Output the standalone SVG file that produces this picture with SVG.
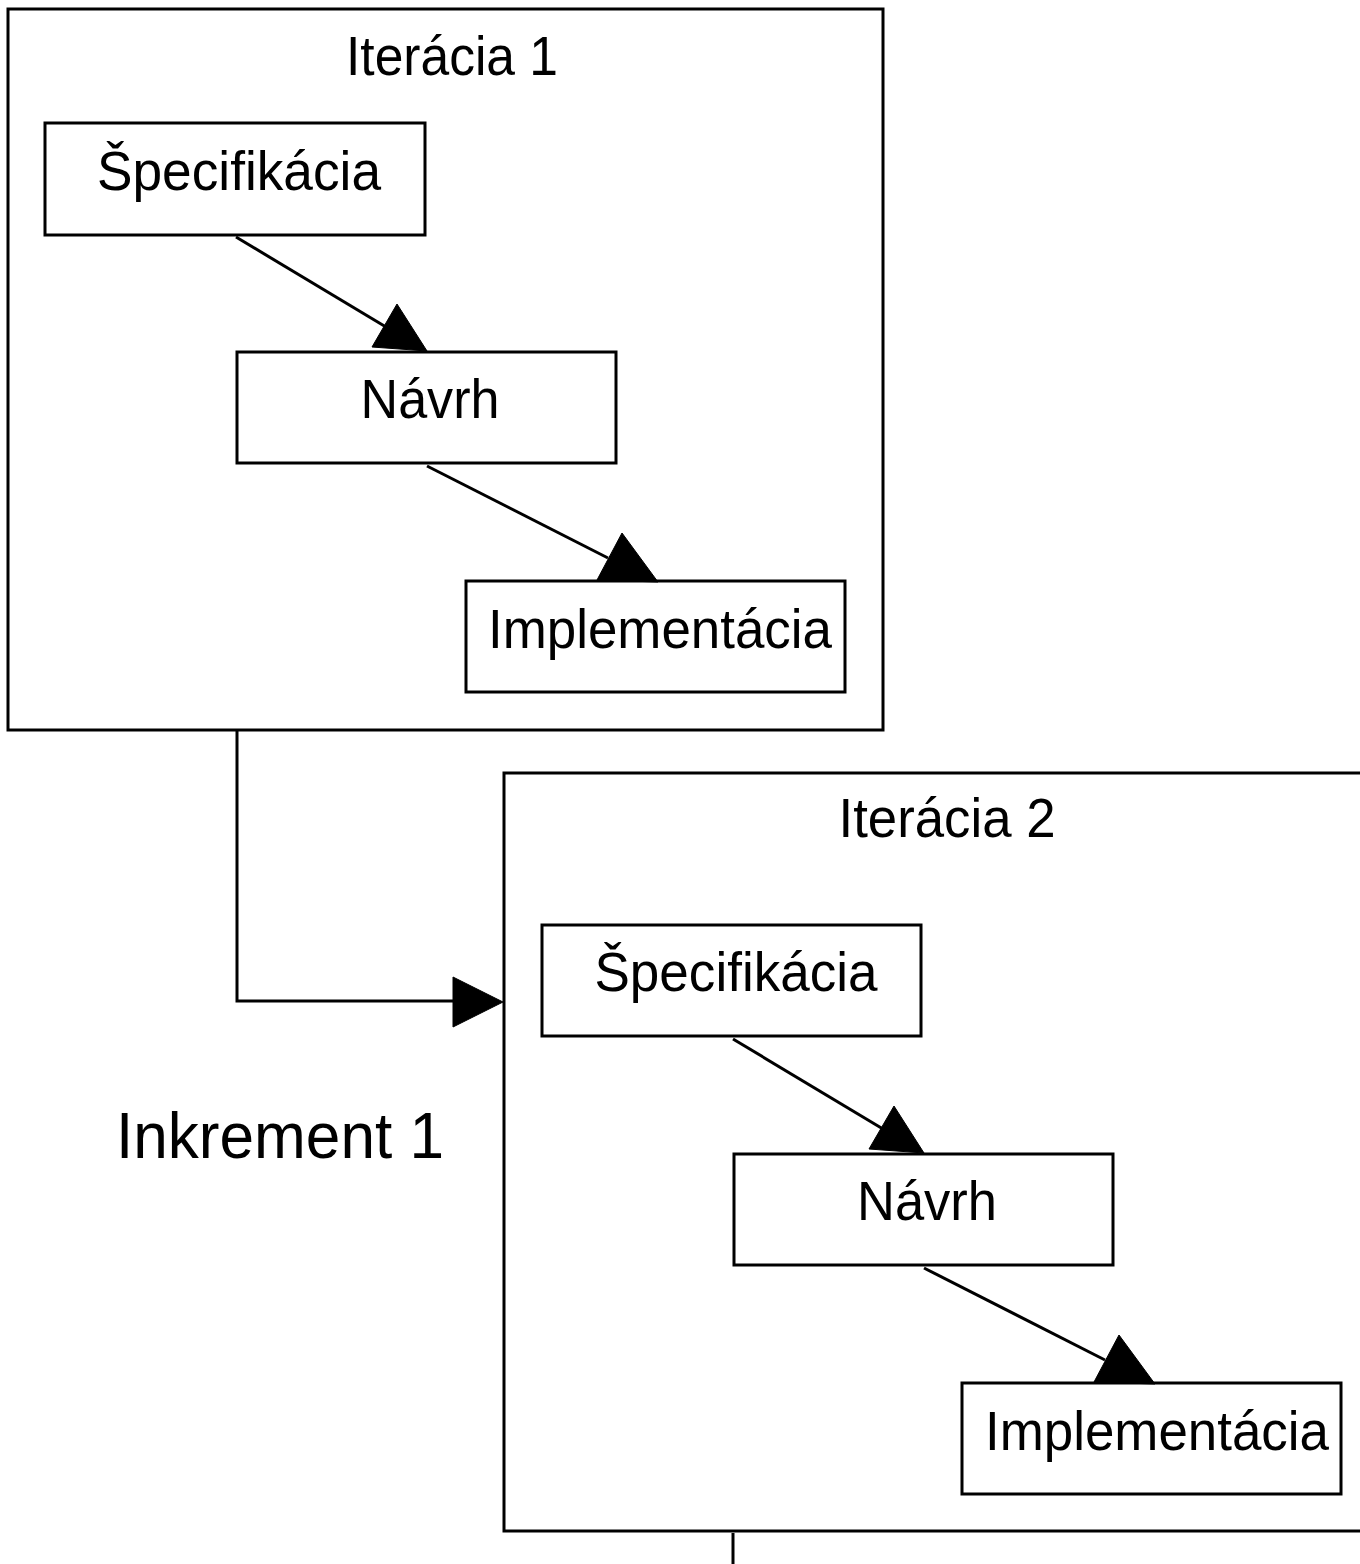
<svg xmlns="http://www.w3.org/2000/svg" width="1360" height="1564" viewBox="0 0 1360 1564">
<style>
.box{fill:#fff;stroke:#000;stroke-width:3}
.frame{fill:none;stroke:#000;stroke-width:3}
.t{font-family:"Liberation Sans",Arial,sans-serif;font-size:55px;text-anchor:middle;fill:#000}
.title{font-size:55px}
.big{font-size:65px}
.ln{fill:none;stroke:#000;stroke-width:3}
.ah{fill:#000;stroke:#000;stroke-width:1}
</style>
<rect width="1360" height="1564" fill="#fff"/>
<g id="iteracia1">
<rect class="frame" x="8" y="9" width="875" height="721"/>
<text class="t title" x="452" y="75" textLength="212" lengthAdjust="spacingAndGlyphs">Iterácia 1</text>
</g>
<g id="iteracia2">
<rect class="frame" x="504" y="773" width="870" height="758"/>
<text class="t title" x="947" y="837" textLength="217" lengthAdjust="spacingAndGlyphs">Iterácia 2</text>
</g>
<g id="spec1">
<rect class="box" x="45" y="123" width="380" height="112"/>
<text class="t" x="239" y="190" textLength="284" lengthAdjust="spacingAndGlyphs">Špecifikácia</text>
</g>
<g id="navrh1">
<rect class="box" x="237" y="352" width="379" height="111"/>
<text class="t" x="430" y="418" textLength="139" lengthAdjust="spacingAndGlyphs">Návrh</text>
</g>
<g id="impl1">
<rect class="box" x="466" y="581" width="379" height="111"/>
<text class="t" x="660" y="648" textLength="344" lengthAdjust="spacingAndGlyphs">Implementácia</text>
</g>
<g id="spec2">
<rect class="box" x="542" y="925" width="379" height="111"/>
<text class="t" x="736" y="991" textLength="283" lengthAdjust="spacingAndGlyphs">Špecifikácia</text>
</g>
<g id="navrh2">
<rect class="box" x="734" y="1154" width="379" height="111"/>
<text class="t" x="927" y="1220" textLength="140" lengthAdjust="spacingAndGlyphs">Návrh</text>
</g>
<g id="impl2">
<rect class="box" x="962" y="1383" width="379" height="111"/>
<text class="t" x="1157" y="1450" textLength="344" lengthAdjust="spacingAndGlyphs">Implementácia</text>
</g>
<g id="inkrement1">
<text class="t big" x="280" y="1158" textLength="328" lengthAdjust="spacingAndGlyphs">Inkrement 1</text>
</g>
<g id="connectors">
<line class="ln" x1="236" y1="237" x2="386" y2="327"/>
<polygon class="ah" points="397,304 372,347 427,351"/>
<line class="ln" x1="427" y1="466" x2="608" y2="558"/>
<polygon class="ah" points="622,533 597,580 658,582"/>
<line class="ln" x1="733" y1="1039" x2="883" y2="1129"/>
<polygon class="ah" points="894,1106 869,1149 924,1153"/>
<line class="ln" x1="924" y1="1268" x2="1105" y2="1360"/>
<polygon class="ah" points="1119,1335 1094,1382 1155,1384"/>
<polyline class="ln" points="237,731 237,1001 455,1001"/>
<polygon class="ah" points="503,1002 453,977 453,1027"/>
<line class="ln" x1="733" y1="1533" x2="733" y2="1564"/>
</g>
</svg>
